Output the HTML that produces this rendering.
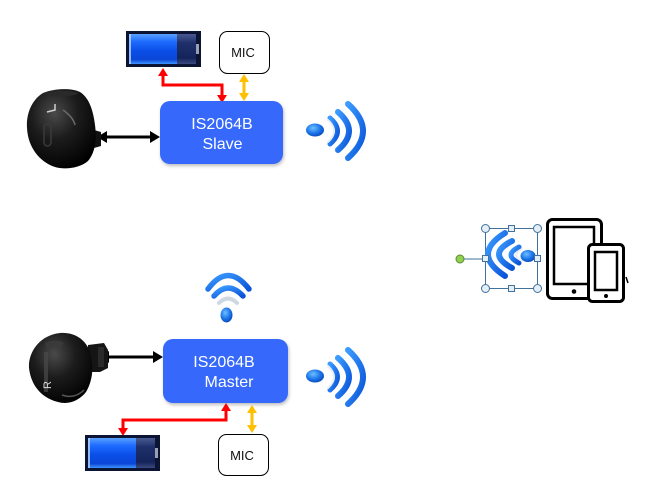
<!DOCTYPE html>
<html><head><meta charset="utf-8"><style>
html,body{margin:0;padding:0;background:#fff;}
svg{display:block;}
text{font-family:"Liberation Sans",sans-serif;}
</style></head><body>
<svg width="661" height="504" viewBox="0 0 661 504" xmlns="http://www.w3.org/2000/svg">
<defs>
<linearGradient id="bat" x1="0" y1="0" x2="0" y2="1">
<stop offset="0" stop-color="#5aa0ff"/><stop offset="0.25" stop-color="#1f6cff"/><stop offset="0.55" stop-color="#0a4fe8"/><stop offset="0.85" stop-color="#0a46d6"/><stop offset="1" stop-color="#3d94ff"/>
</linearGradient>
<linearGradient id="batd" x1="0" y1="0" x2="0" y2="1">
<stop offset="0" stop-color="#4a5a90"/><stop offset="0.3" stop-color="#1f2f6a"/><stop offset="0.8" stop-color="#14245a"/><stop offset="1" stop-color="#3a4a80"/>
</linearGradient>
<radialGradient id="bud" cx="0.4" cy="0.3" r="0.75">
<stop offset="0" stop-color="#4a4a4a"/><stop offset="0.45" stop-color="#1c1c1c"/><stop offset="1" stop-color="#000"/>
</radialGradient>
<linearGradient id="wf" x1="0" y1="0" x2="1" y2="1">
<stop offset="0" stop-color="#3b9bff"/><stop offset="1" stop-color="#0a55d8"/>
</linearGradient>
<radialGradient id="dot" cx="0.4" cy="0.35" r="0.7">
<stop offset="0" stop-color="#6cc0ff"/><stop offset="0.6" stop-color="#1a72e8"/><stop offset="1" stop-color="#0848b8"/>
</radialGradient>
<filter id="sh" x="-10%" y="-10%" width="130%" height="130%"><feDropShadow dx="1" dy="2" stdDeviation="1.5" flood-color="#000" flood-opacity="0.25"/></filter>
</defs>

<!-- ===== TOP (Slave) ===== -->
<!-- battery -->
<rect x="126" y="31" width="75" height="36" fill="#0b1533"/>
<rect x="129" y="34" width="48" height="30" fill="url(#bat)"/>
<rect x="177" y="34" width="19" height="30" fill="url(#batd)"/>
<rect x="196" y="44" width="3" height="10" fill="#9aa0b0"/>
<rect x="129" y="34" width="2" height="30" fill="#b8d4ff" opacity="0.8"/>

<!-- MIC -->
<rect x="219.5" y="31.5" width="50" height="42" rx="8" fill="#fff" stroke="#000" stroke-width="1"/>
<text x="243" y="57" font-size="13" text-anchor="middle" fill="#111">MIC</text>

<!-- red arrow -->
<polyline points="163,75 163,85 222,85 222,96" fill="none" stroke="#ff0000" stroke-width="3"/>
<polygon points="163,68 158,76 168,76" fill="#ff0000"/>
<polygon points="222,103 217,95 227,95" fill="#ff0000"/>
<!-- yellow arrow -->
<line x1="244" y1="80" x2="244" y2="95" stroke="#ffc000" stroke-width="3"/>
<polygon points="244,74 239,82 249,82" fill="#ffc000"/>
<polygon points="244,101 239,93 249,93" fill="#ffc000"/>

<!-- Slave box -->
<rect x="160" y="101" width="123" height="63" rx="10" fill="#3668fb" filter="url(#sh)"/>
<text x="222" y="129" font-size="16" text-anchor="middle" fill="#fff">IS2064B</text>
<text x="222.5" y="149" font-size="16" text-anchor="middle" fill="#fff">Slave</text>

<!-- black arrow -->
<line x1="105" y1="137" x2="152" y2="137" stroke="#000" stroke-width="3"/>
<polygon points="97,137 107,131 107,143" fill="#000"/>
<polygon points="160,137 150,131 150,143" fill="#000"/>

<!-- earbud L -->
<path d="M94,130 L101,132 L101,146 L94,148 Z" fill="#111"/>
<path d="M43,93 C55,88 72,88 80,92 C88,97 93,108 95,125 C97,140 95,153 88,161 C80,168 65,170 55,167 C40,162 28,148 27,128 C26,112 33,99 43,93 Z" fill="url(#bud)"/>
<path d="M44,94 C55,90 70,90 79,93 C72,97 55,98 44,94 Z" fill="#2a2a2a"/>
<path d="M47,112 L55,110 L55,104" fill="none" stroke="#cfcfcf" stroke-width="1.5"/>
<rect x="44" y="124" width="7" height="22" rx="3.5" fill="none" stroke="#3a3a3a" stroke-width="1.5"/>
<path d="M63,110 C70,115 74,120 75,125" fill="none" stroke="#6a6a6a" stroke-width="1.5"/>

<!-- wifi right of slave -->
<g fill="none" stroke-linecap="round">
<path d="M348,104 Q378,131 348,158" stroke="url(#wf)" stroke-width="6"/>
<path d="M338,112 Q360,131 338,150" stroke="url(#wf)" stroke-width="6"/>
<path d="M330,118 Q345,131 330,144" stroke="url(#wf)" stroke-width="5"/>
<path d="M328,120 Q340,131 328,142" stroke="#e8eef5" stroke-width="2"/>
</g>
<ellipse cx="315" cy="130" rx="9" ry="6.5" fill="url(#dot)"/>

<!-- ===== BOTTOM (Master) ===== -->
<!-- wifi above master -->
<g fill="none" stroke-linecap="round">
<path d="M208,289 Q228,262 249,289" stroke="url(#wf)" stroke-width="5.5"/>
<path d="M214,296 Q228,280 243,296" stroke="url(#wf)" stroke-width="5.5"/>
<path d="M219,303 Q228,294 237,303" stroke="#cfd8e2" stroke-width="4"/>
</g>
<ellipse cx="226.5" cy="315" rx="6" ry="7.5" fill="url(#dot)"/>

<!-- Master box -->
<rect x="163" y="339" width="125" height="64" rx="10" fill="#3668fb" filter="url(#sh)"/>
<text x="224" y="367" font-size="16" text-anchor="middle" fill="#fff">IS2064B</text>
<text x="229" y="387" font-size="16" text-anchor="middle" fill="#fff">Master</text>

<!-- black arrow -->
<line x1="106" y1="357" x2="155" y2="357" stroke="#000" stroke-width="3"/>
<polygon points="99,357 109,351 109,363" fill="#000"/>
<polygon points="163,357 153,351 153,363" fill="#000"/>

<!-- earbud R -->
<path d="M88,345 L104,343 L108,350 L108,368 L100,372 L88,372 Z" fill="#151515"/>
<rect x="98" y="347" width="6" height="20" fill="#2a2a2a"/>
<path d="M60,333 C75,332 86,340 90,352 C94,366 93,380 86,392 C79,401 68,405 58,402 C42,398 31,386 29,368 C28,352 40,335 60,333 Z" fill="url(#bud)"/>
<path d="M45,343 C50,340 60,340 64,343 L60,348 C55,346 50,347 47,350 Z" fill="#3a3a3a"/>
<path d="M44,352 L48,352 L48,392 L44,392 Z" fill="#4a4a4a" opacity="0.7"/>
<text x="0" y="0" font-size="11" fill="#d8d8d8" transform="translate(51,389) rotate(-90)">R</text>
<path d="M62,395 C70,398 78,396 84,390" fill="none" stroke="#555" stroke-width="1.5"/>

<!-- red arrow -->
<polyline points="226,410 226,420 123,420 123,429" fill="none" stroke="#ff0000" stroke-width="3"/>
<polygon points="226,403 221,411 231,411" fill="#ff0000"/>
<polygon points="123,436 118,428 128,428" fill="#ff0000"/>
<!-- yellow arrow -->
<line x1="252" y1="411" x2="252" y2="427" stroke="#ffc000" stroke-width="3"/>
<polygon points="252,405 247,413 257,413" fill="#ffc000"/>
<polygon points="252,433 247,425 257,425" fill="#ffc000"/>

<!-- battery bottom -->
<rect x="85" y="435" width="75" height="36" fill="#0b1533"/>
<rect x="88" y="438" width="48" height="30" fill="url(#bat)"/>
<rect x="136" y="438" width="19" height="30" fill="url(#batd)"/>
<rect x="155" y="448" width="3" height="10" fill="#9aa0b0"/>
<rect x="88" y="438" width="2" height="30" fill="#b8d4ff" opacity="0.8"/>

<!-- MIC bottom -->
<rect x="218.5" y="434.5" width="50" height="41" rx="8" fill="#fff" stroke="#000" stroke-width="1"/>
<text x="242" y="460" font-size="13" text-anchor="middle" fill="#111">MIC</text>

<!-- wifi right of master -->
<g transform="translate(0,246)">
<g fill="none" stroke-linecap="round">
<path d="M348,104 Q378,131 348,158" stroke="url(#wf)" stroke-width="6"/>
<path d="M338,112 Q360,131 338,150" stroke="url(#wf)" stroke-width="6"/>
<path d="M330,118 Q345,131 330,144" stroke="url(#wf)" stroke-width="5"/>
<path d="M328,120 Q340,131 328,142" stroke="#e8eef5" stroke-width="2"/>
</g>
<ellipse cx="315" cy="130" rx="9" ry="6.5" fill="url(#dot)"/>
</g>

<!-- ===== RIGHT devices ===== -->
<!-- tablet -->
<rect x="547.5" y="219.5" width="54" height="79" rx="5" fill="#fff" stroke="#000" stroke-width="3"/>
<rect x="554" y="227" width="40" height="57" fill="#fff" stroke="#000" stroke-width="2.5"/>
<circle cx="574" cy="291.5" r="2.3" fill="#000"/>
<!-- phone -->
<rect x="588.5" y="244.5" width="35" height="57" rx="4" fill="#fff" stroke="#000" stroke-width="3"/>
<rect x="595" y="252" width="22" height="38" fill="#fff" stroke="#000" stroke-width="2.5"/>
<circle cx="606" cy="296" r="2" fill="#000"/>
<line x1="626" y1="277" x2="628" y2="283" stroke="#000" stroke-width="1.5"/>

<!-- selection box wifi -->
<rect x="485.5" y="228.5" width="52" height="60" fill="none" stroke="#41719c" stroke-width="1"/>
<line x1="464" y1="259" x2="485" y2="259" stroke="#41719c" stroke-width="1"/>
<g fill="none" stroke-linecap="round">
<path d="M505,233 Q471,254 505,276" stroke="url(#wf)" stroke-width="6"/>
<path d="M512,241 Q486,254 512,268" stroke="url(#wf)" stroke-width="6"/>
<path d="M519,247 Q503,255 519,263" stroke="url(#wf)" stroke-width="5"/>
<path d="M522,249 Q510,255 522,261" stroke="#e8eef5" stroke-width="2"/>
</g>
<ellipse cx="528" cy="256" rx="7.5" ry="6" fill="url(#dot)"/>
<g fill="#e4eef7" stroke="#41719c" stroke-width="1">
<circle cx="485.5" cy="228.5" r="4"/><circle cx="537.5" cy="228.5" r="4"/>
<circle cx="485.5" cy="288.5" r="4"/><circle cx="537.5" cy="288.5" r="4"/>
<rect x="508.5" y="225.5" width="6" height="6"/><rect x="508.5" y="285.5" width="6" height="6"/>
<rect x="482.5" y="255.5" width="6" height="6"/><rect x="534.5" y="255.5" width="6" height="6"/>
</g>
<circle cx="460" cy="259" r="4" fill="#92d050" stroke="#5a8a30" stroke-width="1"/>
</svg>
</body></html>
